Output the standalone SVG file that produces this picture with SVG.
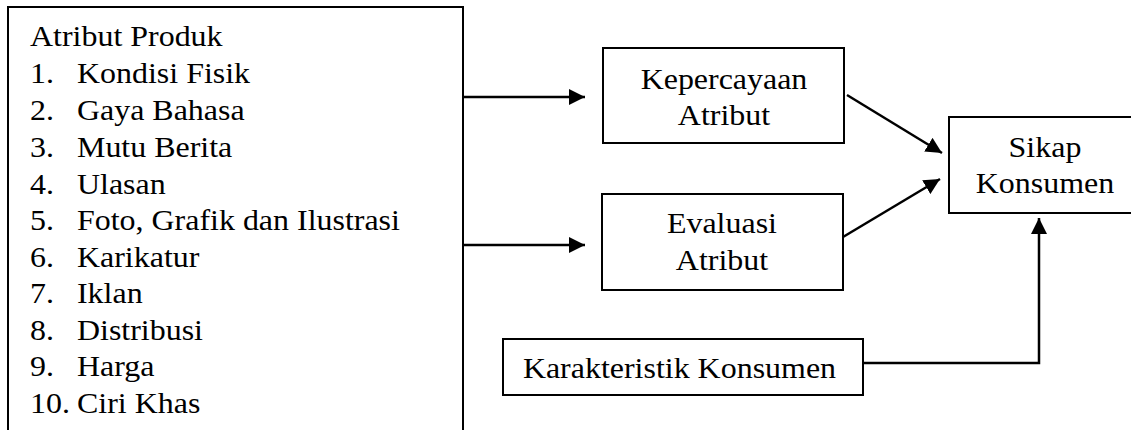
<svg xmlns="http://www.w3.org/2000/svg" width="1131" height="430" viewBox="0 0 1131 430">
<style>
.box{fill:#fff;stroke:#000;stroke-width:2}
.t{font-family:"Liberation Serif","Times New Roman",serif;font-size:30px;fill:#000}
.c{text-anchor:middle}
.ln{fill:none;stroke:#000;stroke-width:2.5}
</style>
<defs>
<marker id="ah" markerWidth="16" markerHeight="16" viewBox="0 0 16 16" refX="16" refY="8" orient="auto" markerUnits="userSpaceOnUse">
<path d="M0,0 L16,8 L0,16 Z" fill="#000"/>
</marker>
</defs>
<rect width="1131" height="430" fill="#fff"/>
<g id="atribut-produk">
<rect class="box" x="8" y="7" width="455" height="440"/>
<g transform="scale(1.065,1)">
<text class="t" x="28.17" y="46">Atribut Produk</text>
<text class="t" x="28.17" y="83">1.</text><text class="t" x="72.3" y="83">Kondisi Fisik</text>
<text class="t" x="28.17" y="120">2.</text><text class="t" x="72.3" y="120">Gaya Bahasa</text>
<text class="t" x="28.17" y="157">3.</text><text class="t" x="72.3" y="157">Mutu Berita</text>
<text class="t" x="28.17" y="194">4.</text><text class="t" x="72.3" y="194">Ulasan</text>
<text class="t" x="28.17" y="230">5.</text><text class="t" x="72.3" y="230">Foto, Grafik dan Ilustrasi</text>
<text class="t" x="28.17" y="267">6.</text><text class="t" x="72.3" y="267">Karikatur</text>
<text class="t" x="28.17" y="303">7.</text><text class="t" x="72.3" y="303">Iklan</text>
<text class="t" x="28.17" y="340">8.</text><text class="t" x="72.3" y="340">Distribusi</text>
<text class="t" x="28.17" y="376">9.</text><text class="t" x="72.3" y="376">Harga</text>
<text class="t" x="28.17" y="413">10.</text><text class="t" x="72.3" y="413">Ciri Khas</text>
</g>
</g>
<g id="kepercayaan-atribut">
<rect class="box" x="603" y="48" width="241" height="95"/>
<g transform="scale(1.065,1)">
<text class="t c" x="679.8" y="89">Kepercayaan</text>
<text class="t c" x="679.8" y="125">Atribut</text>
</g>
</g>
<g id="evaluasi-atribut">
<rect class="box" x="602" y="194" width="241" height="96"/>
<g transform="scale(1.065,1)">
<text class="t c" x="677.9" y="233">Evaluasi</text>
<text class="t c" x="677.9" y="270">Atribut</text>
</g>
</g>
<g id="sikap-konsumen">
<rect class="box" x="949" y="117" width="192" height="96"/>
<g transform="scale(1.065,1)">
<text class="t c" x="981.2" y="157">Sikap</text>
<text class="t c" x="981.2" y="193">Konsumen</text>
</g>
</g>
<g id="karakteristik-konsumen">
<rect class="box" x="503" y="339" width="360" height="56"/>
<g transform="scale(1.065,1)">
<text class="t c" x="638" y="378">Karakteristik Konsumen</text>
</g>
</g>
<g id="connectors">
<path class="ln" d="M463,97 L585,97" marker-end="url(#ah)"/>
<path class="ln" d="M463,245 L585,245" marker-end="url(#ah)"/>
<path class="ln" d="M847,95 L942,153" marker-end="url(#ah)"/>
<path class="ln" d="M843,237 L940,179" marker-end="url(#ah)"/>
<path class="ln" d="M863,363 L1039,363 L1039,218" marker-end="url(#ah)"/>
</g>
</svg>
